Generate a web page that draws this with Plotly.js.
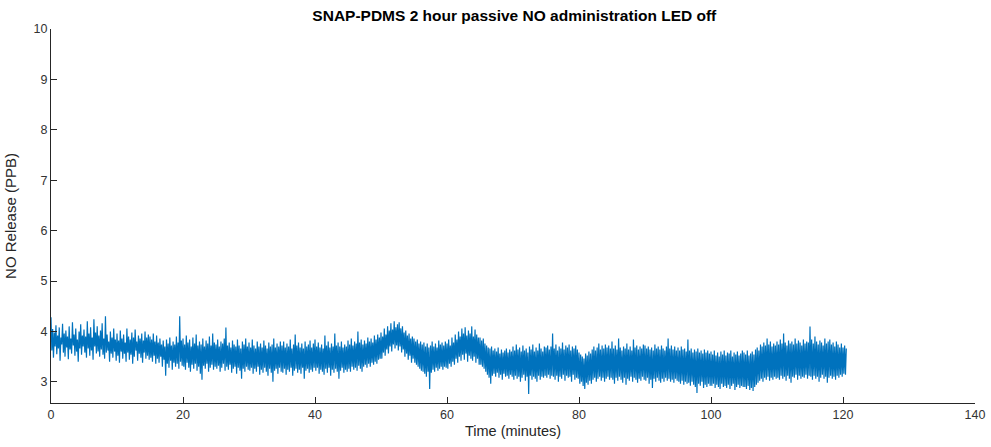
<!DOCTYPE html>
<html>
<head>
<meta charset="utf-8">
<script src="https://cdn.plot.ly/plotly-3.0.1.min.js"></script>
<style>html,body{margin:0;padding:0;background:#fff;}#chart{width:991px;height:447px;}</style>
</head>
<body>
<div id="chart"></div>
<script>
// Sampling interval of the read-off trace (minutes)
const sampleInterval = 0.125;
// NO release (PPB), one value per 0.125 min, 0 .. 120.5 min
const noRelease = [
4.28,3.62,4.05,3.48,3.98,3.70,4.12,3.55,3.92,3.66,4.08,3.42,3.88,3.74,4.15,3.58,3.96,3.50,4.02,3.68,3.90,3.45,4.10,3.64,3.86,3.56,4.18,3.72,3.94,3.52,4.06,3.60,3.84,3.40,4.00,3.66,4.14,3.54,3.92,3.70,
4.04,3.58,3.90,3.48,4.20,3.66,3.96,3.52,4.08,3.62,3.88,3.44,4.24,3.70,3.98,3.56,4.10,3.60,3.92,3.50,4.02,3.64,4.16,3.54,3.86,3.46,4.30,3.58,3.94,3.62,3.80,3.40,4.00,3.56,3.88,3.48,4.06,3.60,3.84,3.42,
3.96,3.52,3.82,3.38,4.02,3.60,3.86,3.46,3.94,3.56,3.78,3.40,4.06,3.58,3.90,3.44,3.84,3.54,3.98,3.36,3.88,3.50,4.04,3.62,3.80,3.42,3.92,3.56,3.86,3.48,3.96,3.38,3.82,3.58,4.00,3.46,3.88,3.52,3.94,3.44,
3.90,3.48,3.84,3.40,3.96,3.52,3.80,3.36,3.92,3.46,3.78,3.38,3.86,3.50,3.74,3.30,3.82,3.44,3.70,3.12,3.84,3.36,3.76,3.28,3.88,3.42,3.72,3.24,3.80,3.38,3.74,3.30,3.90,3.36,3.78,3.26,4.30,3.40,3.82,3.32,
3.86,3.30,3.74,3.24,3.92,3.38,3.78,3.28,3.84,3.20,3.70,3.34,3.88,3.26,3.76,3.36,3.94,3.22,3.72,3.30,3.80,3.16,3.74,3.04,3.86,3.32,3.70,3.26,3.82,3.36,3.76,3.20,3.90,3.28,3.72,3.34,3.96,3.24,3.78,3.30,
3.74,3.26,3.84,3.32,3.70,3.20,3.80,3.28,3.76,3.36,3.86,3.22,4.08,3.30,3.72,3.24,3.78,3.34,3.68,3.18,3.82,3.26,3.74,3.30,3.70,3.16,3.84,3.28,3.72,3.22,3.66,3.06,3.80,3.26,3.74,3.20,3.86,3.30,3.70,3.24,
3.78,3.22,3.68,3.28,3.84,3.16,3.72,3.26,3.66,3.20,3.80,3.30,3.70,3.14,3.76,3.24,3.68,3.18,3.82,3.28,3.72,3.20,3.66,3.12,3.78,3.26,3.70,3.18,3.74,3.00,3.86,3.22,3.68,3.26,3.76,3.16,3.70,3.28,3.80,3.20,
3.72,3.18,3.80,3.26,3.68,3.14,3.76,3.24,3.70,3.20,3.84,3.28,3.66,3.12,3.74,3.22,3.94,3.26,3.72,3.18,3.78,3.24,3.68,3.16,3.76,3.28,3.66,3.06,3.80,3.22,3.70,3.26,3.74,3.18,3.82,3.24,3.68,3.20,3.76,3.28,
3.84,3.22,3.70,3.28,3.78,3.16,3.68,3.24,3.74,3.20,3.66,3.14,3.92,3.26,3.72,3.18,3.80,3.28,3.68,3.12,3.76,3.24,3.70,3.18,3.96,3.26,3.72,3.20,3.78,3.06,3.70,3.22,3.80,3.28,3.68,3.18,3.74,3.24,3.70,3.20,
3.82,3.26,3.74,3.20,3.86,3.30,3.72,3.24,3.80,3.28,3.76,3.22,4.00,3.32,3.78,3.26,3.84,3.20,3.74,3.30,3.82,3.34,3.76,3.28,3.88,3.36,3.80,3.30,3.86,3.38,3.78,3.34,3.92,3.40,3.84,3.36,3.94,3.44,3.88,3.46,
3.98,3.46,3.90,3.58,4.06,3.52,3.94,3.64,4.10,3.56,4.02,3.70,4.16,3.60,4.04,3.74,4.20,3.66,4.08,3.72,4.14,3.62,4.18,3.70,4.06,3.58,4.10,3.64,3.98,3.50,4.02,3.56,3.92,3.44,3.96,3.52,3.86,3.38,3.90,3.46,
3.86,3.38,3.80,3.34,3.84,3.30,3.76,3.26,3.80,3.22,3.74,3.20,3.78,3.16,3.70,3.10,3.76,3.20,3.68,2.86,3.72,3.18,3.80,3.24,3.70,3.20,3.76,3.28,3.68,3.22,3.82,3.26,3.74,3.30,3.78,3.24,3.72,3.30,3.80,3.28,
3.76,3.26,3.84,3.36,3.72,3.30,3.88,3.40,3.78,3.34,3.94,3.46,3.84,3.38,4.00,3.50,3.90,3.42,4.06,3.54,3.96,3.44,4.08,3.56,3.92,3.40,4.02,3.52,3.96,3.46,4.10,3.42,3.90,3.50,4.04,3.38,3.94,3.46,3.88,3.34,
3.88,3.34,3.82,3.30,3.86,3.26,3.76,3.20,3.72,3.14,3.68,3.08,3.66,2.96,3.70,3.12,3.62,3.16,3.66,3.10,3.60,3.18,3.68,3.08,3.56,3.14,3.64,3.04,3.58,3.16,3.62,3.10,3.66,3.12,3.58,3.06,3.64,3.14,3.60,3.10,
3.70,3.04,3.62,3.12,3.74,3.06,3.64,3.10,3.68,3.00,3.60,3.08,3.72,3.14,3.62,3.02,3.66,3.10,3.58,2.76,3.70,3.12,3.64,3.04,3.74,3.10,3.60,3.06,3.68,3.00,3.62,3.12,3.76,3.04,3.66,3.10,3.60,3.08,3.70,3.12,
3.68,3.08,3.72,3.14,3.64,3.06,3.70,3.12,3.96,3.10,3.66,3.04,3.74,3.12,3.62,3.00,3.70,3.10,3.66,3.06,3.78,3.14,3.64,3.02,3.72,3.12,3.68,3.08,3.74,3.10,3.62,3.00,3.70,3.14,3.66,3.04,3.72,3.08,3.64,3.06,
3.58,2.96,3.54,3.00,3.50,2.92,3.46,2.86,3.56,2.98,3.52,2.94,3.60,3.02,3.56,2.96,3.64,3.04,3.70,3.08,3.62,3.00,3.68,3.06,3.76,3.10,3.64,3.02,3.72,3.08,3.66,3.00,3.74,3.06,3.68,3.10,3.72,3.04,3.66,3.08,
3.80,3.04,3.66,2.96,3.72,3.08,3.64,3.02,3.86,3.10,3.68,3.04,3.62,2.98,3.70,3.08,3.66,2.94,3.76,3.06,3.64,3.02,3.70,3.10,3.62,3.00,3.84,3.08,3.68,3.04,3.72,2.98,3.64,3.06,3.70,3.02,3.66,3.10,3.74,3.04,
3.72,3.02,3.66,3.08,3.70,2.96,3.64,3.04,3.68,2.88,3.62,3.06,3.74,3.00,3.66,3.08,3.70,3.02,3.64,2.98,3.72,3.06,3.66,3.00,3.62,3.08,3.70,3.02,3.86,3.06,3.66,3.00,3.72,3.04,3.64,2.98,3.70,3.06,3.62,3.02,
3.68,3.00,3.62,2.96,3.70,3.02,3.64,2.94,3.66,3.00,3.60,2.96,3.84,2.98,3.62,2.92,3.66,3.00,3.58,2.94,3.64,2.90,3.60,2.78,3.66,2.96,3.58,2.92,3.62,3.00,3.56,2.88,3.64,2.94,3.58,2.90,3.62,2.96,3.56,2.92,
3.60,2.92,3.54,2.96,3.62,2.88,3.52,2.94,3.58,2.90,3.50,2.86,3.60,2.96,3.54,2.90,3.62,2.92,3.52,2.88,3.58,2.94,3.56,2.86,3.62,2.92,3.50,2.96,3.58,2.84,3.54,2.90,3.60,2.94,3.52,2.88,3.56,2.92,3.62,2.90,
3.58,2.90,3.54,2.86,3.62,2.92,3.52,2.84,3.56,2.88,3.60,2.82,3.54,2.90,3.64,2.94,3.68,2.98,3.62,3.02,3.74,3.06,3.70,3.00,3.78,3.08,3.72,3.04,3.86,3.10,3.74,3.02,3.80,3.08,3.70,3.04,3.76,3.10,3.72,3.06,
3.80,3.08,3.74,3.04,3.84,3.12,3.76,3.06,3.96,3.10,3.78,3.02,3.72,3.12,3.82,3.06,3.76,2.98,3.80,3.10,3.74,3.08,3.86,3.14,3.76,3.04,3.82,3.12,3.78,3.06,3.72,3.10,3.84,3.08,3.76,3.14,3.80,3.06,3.78,3.12,
4.10,3.10,3.84,3.04,3.76,3.12,3.90,3.06,3.80,3.10,3.74,3.00,3.82,3.08,3.78,3.14,3.72,3.06,3.86,3.10,3.76,2.98,3.80,3.08,3.84,3.12,3.74,3.06,3.78,3.10,3.70,3.04,3.80,3.12,3.74,3.08,3.68,3.14,3.76,3.10,
3.68,3.16,3.72,3.14,3.66
];
const timeMinutes = noRelease.map((_, i) => i * sampleInterval);

const titleText = 'SNAP-PDMS 2 hour passive NO administration LED off';
const xTitle = 'Time (minutes)';
const yTitle = 'NO Release (PPB)';
const xTicks = [0, 20, 40, 60, 80, 100, 120, 140];
const yTicks = [3, 4, 5, 6, 7, 8, 9, 10];

const fontFamily = 'Liberation Sans, Arial, Helvetica, sans-serif';
const axisColor = '#262626';
const tickFont = {family: fontFamily, size: 12.5, color: '#333333'};

const trace = {
  x: timeMinutes, y: noRelease, type: 'scatter', mode: 'lines',
  line: {color: '#0072BD', width: 1.2, simplify: false},
  hoverinfo: 'skip'
};

const layout = {
  width: 991, height: 447,
  margin: {l: 51, r: 16, t: 29, b: 44},
  paper_bgcolor: '#ffffff', plot_bgcolor: '#ffffff',
  showlegend: false,
  title: {text: '<b>' + titleText + '</b>', x: 0.519, xanchor: 'center', y: 0.965, yanchor: 'middle',
          font: {family: fontFamily, size: 15.5, color: '#000000'}},
  xaxis: {
    range: [0, 140], tickvals: xTicks, ticktext: xTicks.map(String),
    ticks: 'inside', ticklen: 6, tickcolor: axisColor, tickwidth: 1,
    showline: true, linecolor: axisColor, linewidth: 1, mirror: false,
    showgrid: false, zeroline: false, tickfont: tickFont,
    title: {text: xTitle, standoff: 4, font: {family: fontFamily, size: 14.5, color: '#262626'}}
  },
  yaxis: {
    range: [2.58, 10], tickvals: yTicks, ticktext: yTicks.map(String),
    ticks: 'inside', ticklen: 6, tickcolor: axisColor, tickwidth: 1,
    showline: true, linecolor: axisColor, linewidth: 1, mirror: false,
    showgrid: false, zeroline: false, tickfont: tickFont,
    title: {text: yTitle, standoff: 13, font: {family: fontFamily, size: 15, color: '#262626'}}
  }
};

Plotly.newPlot('chart', [trace], layout, {displayModeBar: false, staticPlot: true});
</script>
</body>
</html>
